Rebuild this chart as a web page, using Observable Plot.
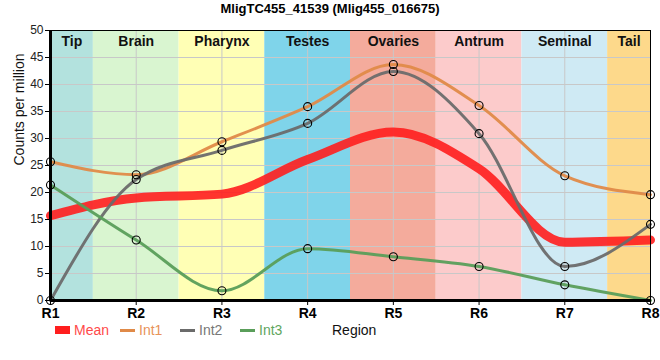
<!DOCTYPE html>
<html>
<head>
<meta charset="utf-8">
<script src="https://cdn.jsdelivr.net/npm/d3@7"></script>
<script src="https://cdn.jsdelivr.net/npm/@observablehq/plot@0.6"></script>
<style>
  body { margin: 0; background: #fff; font-family: "Liberation Sans", Arial, sans-serif; }
  #wrap { position: relative; width: 660px; height: 360px; }
  #title { position: absolute; left: 0; top: 1px; width: 660px; text-align: center; font: bold 13px "Liberation Sans", Arial, sans-serif; color: #000; }
  #chart { position: absolute; left: 0; top: 20px; }
  #legend { position: absolute; left: 0; top: 320px; width: 660px; height: 22px; font: 14px "Liberation Sans", Arial, sans-serif; }
  .item { position: absolute; top: 2px; display: flex; align-items: center; }
  .sw { display: inline-block; margin-right: 4px; }
</style>
</head>
<body>
<div id="wrap">
  <div id="title">MligTC455_41539 (Mlig455_016675)</div>
  <div id="chart"></div>
  <div id="legend"></div>
</div>
<script>
const regions = ["R1", "R2", "R3", "R4", "R5", "R6", "R7", "R8"];
const tissues = ["Tip", "Brain", "Pharynx", "Testes", "Ovaries", "Antrum", "Seminal", "Tail"];
const tissueColors = ["#b3e2de", "#d9f5d0", "#ffffb5", "#7fd4ea", "#f4ab9c", "#fccbcb", "#cfeaf4", "#fdd98b"];
const int1 = [25.7, 23.3, 29.4, 35.9, 43.7, 36.1, 23.1, 19.6];
const int2 = [0, 22.4, 27.8, 32.8, 42.4, 30.9, 6.3, 14.1];
const int3 = [21.4, 11.2, 1.8, 9.6, 8.1, 6.3, 2.9, 0];
const mean = [15.7, 19.0, 19.7, 26.1, 31.2, 24.4, 10.8, 11.2];
const yTicks = d3.range(0, 51, 5);

const seriesNames = ["Mean", "Int1", "Int2", "Int3"];
const seriesColors = ["#ff1e1e", "#e08a48", "#6b6b6b", "#5a9e5a"];
const legendText = ["#ff4a4a", "#e8935a", "#777777", "#5fa65f"];

const last = regions.length - 1;
const bands = tissues.map((t, i) => ({
  name: t,
  color: tissueColors[i],
  x1: Math.max(0, i - 0.5),
  x2: Math.min(last, i + 0.5)
}));
const toRows = (arr, s) => arr.map((v, i) => ({ i, v, s }));
const rows1 = toRows(int1, "Int1"), rows2 = toRows(int2, "Int2"), rows3 = toRows(int3, "Int3"), rowsM = toRows(mean, "Mean");

const lineOpts = (c, w, op) => ({ x: "i", y: "v", stroke: c, strokeWidth: w, curve: "monotone-x", strokeOpacity: op });

const chart = Plot.plot({
  width: 660,
  height: 300,
  marginLeft: 50,
  marginRight: 10,
  marginTop: 10,
  marginBottom: 20,
  style: { fontFamily: "Liberation Sans, Arial, sans-serif", background: "transparent" },
  x: { type: "linear", domain: [0, last] },
  y: { domain: [0, 50] },
  marks: [
    Plot.rect(bands, { x1: "x1", x2: "x2", y1: 0, y2: 50, fill: "color" }),
    Plot.gridX(d3.range(regions.length), { stroke: "#c8c8c8", strokeOpacity: 1, strokeWidth: 1 }),
    Plot.gridY(yTicks, { stroke: "#c8c8c8", strokeOpacity: 1, strokeWidth: 1 }),
    Plot.text(bands, { x: d => (d.x1 + d.x2) / 2, y: 50, text: "name", dy: 11, fontWeight: "bold", fontSize: 14, fill: "#111" }),
    Plot.line(rowsM, lineOpts(seriesColors[0], 9, 0.9)),
    Plot.line(rows1, lineOpts(seriesColors[1], 3, 0.95)),
    Plot.line(rows2, lineOpts(seriesColors[2], 3, 0.95)),
    Plot.line(rows3, lineOpts(seriesColors[3], 3, 0.95)),
    Plot.dot([...rows1, ...rows2, ...rows3], { x: "i", y: "v", r: 4, stroke: "#000", strokeWidth: 1.1, fill: "none" }),
    Plot.frame({ stroke: "#000", strokeWidth: 1 }),
    Plot.ruleX([0], { stroke: "#000", strokeWidth: 3 }),
    Plot.ruleY([0], { stroke: "#000", strokeWidth: 3 }),
    Plot.axisY(yTicks, { tickSize: 5, tickPadding: 2, fontSize: 12, label: null, tickFormat: d => d, fill: "#222" }),
    Plot.axisX(d3.range(regions.length), { tickSize: 5, tickPadding: 3, fontSize: 14, fontWeight: "bold", label: null, tickFormat: i => regions[i], fill: "#000" }),
    Plot.text(["Counts per million"], { frameAnchor: "left", dx: -31, rotate: -90, fontSize: 14, fill: "#111" })
  ]
});
document.getElementById("chart").appendChild(chart);

// legend
const legend = document.getElementById("legend");
const positions = [55, 120, 180, 240];
seriesNames.forEach((n, k) => {
  const it = document.createElement("div");
  it.className = "item";
  it.style.left = positions[k] + "px";
  const sw = document.createElement("span");
  sw.className = "sw";
  sw.style.width = "15px";
  sw.style.height = k === 0 ? "8px" : "3px";
  sw.style.background = seriesColors[k];
  const tx = document.createElement("span");
  tx.textContent = n;
  tx.style.color = legendText[k];
  if (k === 0) tx.style.fontWeight = "500";
  it.appendChild(sw);
  it.appendChild(tx);
  legend.appendChild(it);
});
const reg = document.createElement("div");
reg.className = "item";
reg.style.left = "332px";
reg.style.color = "#111";
reg.textContent = "Region";
legend.appendChild(reg);
</script>
</body>
</html>
